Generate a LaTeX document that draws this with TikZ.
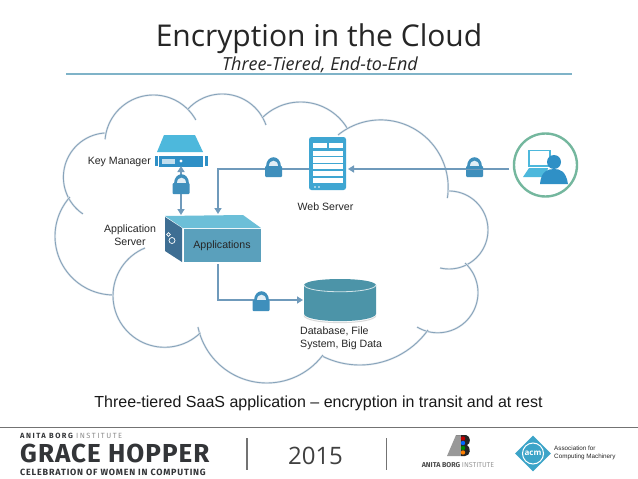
\documentclass[tikz,border=0pt]{standalone}
\usepackage{fontspec}
\setmainfont{Liberation Sans}
\newfontfamily\titlefont{Open Sans}
\newfontfamily\logofont{Fira Sans}
\usetikzlibrary{arrows.meta,shapes.geometric}
\definecolor{cloudline}{HTML}{87A3BA}
\definecolor{wire}{HTML}{6F9ABB}
\definecolor{lockblue}{HTML}{3F8FBC}
\definecolor{srvlight}{HTML}{4DB8DC}
\definecolor{srvdark}{HTML}{2F90C6}
\definecolor{webblue}{HTML}{3FA6D2}
\definecolor{boxfront}{HTML}{5AA0BC}
\definecolor{boxtop}{HTML}{6CBFD8}
\definecolor{boxside}{HTML}{3E6E93}
\definecolor{dbfill}{HTML}{4C94A8}
\definecolor{ringgreen}{HTML}{74B79E}
\definecolor{inktitle}{HTML}{262626}
\definecolor{logoink}{HTML}{333538}
\definecolor{rulecol}{HTML}{7FB3C8}
\definecolor{acmblue}{HTML}{3CA4C8}
\newcommand\lobearc[5]{\draw[lobe] plot[domain=#4:#5,samples=48] ({#1+#3*cos(\x)},{#2+#3*sin(\x)});}
\tikzset{
  lobe/.style={draw=cloudline,line width=0.9pt,preaction={draw=cloudline!25,line width=2pt}},
  wireline/.style={draw=wire,line width=1.8pt},
  wirearrow/.style={wireline,-{Triangle[length=6pt,width=7pt]}},
  label/.style={font=\fontsize{10.6}{12.5}\selectfont,text=black!85,inner sep=0pt,align=center},
  lockicon/.pic={
    \fill[lockblue,rounded corners=1pt] (-8.5,-1) rectangle (8.5,10);
    \fill[lockblue] (-7.5,0) .. controls (-7.5,-13) and (7.5,-13) .. (7.5,0) -- cycle;
    \fill[white!85!lockblue] (-4.5,-1) .. controls (-4.5,-8) and (4.5,-8) .. (4.5,-1) -- cycle;
  },
}
\begin{document}
\begin{tikzpicture}[x=1pt,y=-1pt]
\path[use as bounding box,fill=white] (0,0) rectangle (638,479);

% heading
\node[font=\titlefont\fontsize{30}{34}\selectfont,text=inktitle,inner sep=0pt,anchor=base] (title) at (319,46.5) {Encryption in the Cloud};
\node[font=\titlefont\itshape\fontsize{18}{21}\selectfont,text=inktitle,inner sep=0pt,anchor=base] (subtitle) at (320,70) {Three-Tiered, End-to-End};
\draw[rulecol,line width=2pt] (66,73.5) -- (572,73.5);

% cloud
\lobearc{107.7}{177.2}{44.3}{124}{266}
\lobearc{153.4}{143.5}{48.5}{185}{331}
\lobearc{222.2}{140.4}{46.4}{222.6}{340.6}
\lobearc{300.6}{156.5}{54.5}{225}{328.4}
\lobearc{380.6}{187.5}{67.6}{231}{369}
\lobearc{449}{230}{39}{268.5}{463.3}
\lobearc{437.8}{292.6}{40.2}{312.6}{481}
\lobearc{359.8}{281.1}{83.9}{35.6}{116.8}
\lobearc{266.8}{312.7}{70.3}{37}{168.3}
\lobearc{164.6}{295.7}{51.6}{46}{247.7}
\lobearc{113.8}{236.2}{58.8}{90.8}{221.8}

% named places on the connectors
\coordinate (wsin) at (348,169);
\coordinate (usrout) at (509,169);
\coordinate (wsout) at (310,169);
\coordinate (bend1) at (218,169);
\coordinate (appin) at (218,214);
\coordinate (appout) at (218,264);
\coordinate (bend2) at (218,300);
\coordinate (dbin) at (303,300);
\coordinate (kmb) at (181,166);
\coordinate (apptop) at (181,215);

% key manager
\node[inner sep=0pt,minimum width=54pt,minimum height=33pt] (keymgr) at (181,151) {};
\fill[srvdark] (155,156) rectangle (157.5,166);
\fill[srvdark] (205,156) rectangle (207.5,166);
\fill[srvlight] (164,135) -- (195,135) -- (203,152) -- (157,152) -- cycle;
\fill[srvdark] (159,156) rectangle (203,167);
\fill[white!70!srvdark] (162,159) rectangle (175,164);
\fill[white] (181,161) circle (1.6);

% connectors
\draw[wireline,{Triangle[length=6pt,width=7pt]}-{Triangle[length=6pt,width=7pt]}] (kmb) -- (apptop);
\draw[wirearrow] (usrout) -- (wsin);
\draw[wirearrow] (wsout) -- (bend1) -- (appin);
\draw[wirearrow] (appout) -- (bend2) -- (dbin);

% application box
\fill[boxtop] (165,216) -- (243,215) -- (261,228) -- (183,228) -- cycle;
\fill[boxside] (165,217) -- (182,228) -- (182,262) -- (165,251) -- cycle;
\fill[boxfront] (183.5,229) rectangle (261,262);
\draw[white,line width=0.7pt] (172,240.5) circle (3);
\draw[white,line width=0.7pt] (168.5,234.5) circle (1.8);
\node[label,text=black!85] (apps) at (222,246) {Applications};

% web server
\node[draw=none,fill=webblue,rounded corners=2.5pt,inner sep=0pt,minimum width=37pt,minimum height=53pt] (websrv) at (327.5,163.5) {};
\foreach \ya/\yb in {151/156,157/163,164/169,171/176,178/183}
  \fill[white] (313,\ya) rectangle (343,\yb);
\fill[white] (313,143) rectangle (327,148);
\fill[white] (329,143) rectangle (343,148);
\fill[white] (315,187) circle (0.9);
\fill[white] (319,187) circle (0.9);

% database
\node[inner sep=0pt,minimum width=72pt,minimum height=42pt] (db) at (340,300) {};
\fill[dbfill] (304,285) .. controls (306,277) and (374,277) .. (376,285) -- (376,314) .. controls (374,323.5) and (306,323.5) .. (304,314) -- cycle;
\draw[white!75!dbfill,line width=0.8pt] (304,285) .. controls (306,294) and (374,294) .. (376,285);
\draw[black!15,line width=1pt] (304,315.5) .. controls (306,325) and (374,325) .. (376,315.5);

% locks
\pic at (181,184) {lockicon};
\pic at (273.5,167) {lockicon};
\pic at (474.5,167) {lockicon};
\pic at (261,301) {lockicon};
\draw[wire,line width=1pt] (466,169) -- (483,169);

% user
\node[circle,draw=ringgreen,line width=2.4pt,inner sep=0pt,minimum size=63pt] (user) at (545.5,165) {};
\draw[srvlight,line width=1.5pt] (529,150.5) rectangle (550,166);
\fill[srvlight] (529,168) -- (548,168) -- (546,177) -- (523,177) -- cycle;
\fill[srvdark] (554,162) circle (7);
\fill[srvdark] (540,184) .. controls (541,171) and (548,169) .. (554,169) .. controls (560,169) and (566,171) .. (568,184) -- cycle;

% labels
\node[label,anchor=east] (kmlabel) at (151,162) {Key Manager};
\node[label] (aslabel) at (130,235) {Application\\Server};
\node[label] (wslabel) at (325.5,207) {Web Server};
\node[label,anchor=north west,align=left] (dblabel) at (300,327) {Database, File\\System, Big Data};
\node[font=\fontsize{16}{19}\selectfont,text=black!90,inner sep=0pt,anchor=base] (caption) at (318.5,407) {Three-tiered SaaS application – encryption in transit and at rest};

% footer
\draw[black!55,line width=0.9pt] (0,427.5) -- (638,427.5);
\node[font=\logofont\addfontfeature{LetterSpace=20}\bfseries\fontsize{7.5}{9}\selectfont,text=logoink,anchor=base west,inner sep=0pt] (abi) at (20,438.5) {ANITA BORG \textcolor{black!45}{\mdseries INSTITUTE}};
\node[font=\logofont\addfontfeature{LetterSpace=4}\bfseries\fontsize{26}{28}\selectfont,text=logoink,anchor=base west,inner sep=0pt] (gh) at (20,462.5) {GRACE HOPPER};
\node[font=\logofont\addfontfeature{LetterSpace=9}\bfseries\fontsize{9}{11}\selectfont,text=logoink,anchor=base west,inner sep=0pt] (cel) at (20,475) {CELEBRATION OF WOMEN IN COMPUTING};
\draw[black!55,line width=1.1pt] (247,438) -- (247,470);
\node[font=\titlefont\fontsize{24}{27}\selectfont,text=black!75,inner sep=0pt] (year) at (315.5,456) {2015};
\draw[black!55,line width=1.1pt] (386.5,438) -- (386.5,470);

% Anita Borg logo
\fill[black!40] (447,456) -- (456,435) -- (461,435) -- (461,456) -- cycle;
\fill[black!85] (456,435) -- (466,435) .. controls (471,436) and (471,444) .. (467,445) .. controls (471,447) and (471,456) .. (465,456) -- (461,456) -- (461,435) -- cycle;
\fill[red!75!black] (463,438.5) circle (2.2);
\fill[blue!60!cyan] (463,443) circle (2.2);
\fill[green!55!black] (463,448) circle (2.2);
\fill[orange] (463,452.5) circle (2.2);
\node[font=\logofont\bfseries\fontsize{7.1}{8}\selectfont,text=black!70,inner sep=0pt] (abi2) at (458,465.5) {ANITA BORG \textcolor{black!40}{\mdseries INSTITUTE}};

% ACM logo
\node[diamond,fill=acmblue,inner sep=0pt,minimum width=36pt,minimum height=36pt,aspect=1] (acm) at (533,453.5) {};
\draw[white,line width=1pt] (acm.center) circle (10.5);
\node[font=\titlefont\bfseries\fontsize{8}{9}\selectfont,text=white,inner sep=0pt] (acmt) at (acm.center) {acm};
\node[font=\fontsize{6.3}{8}\selectfont,text=black!85,anchor=west,align=left,inner sep=0pt] (acmname) at (554,453) {Association for\\Computing Machinery};
\end{tikzpicture}
\end{document}
